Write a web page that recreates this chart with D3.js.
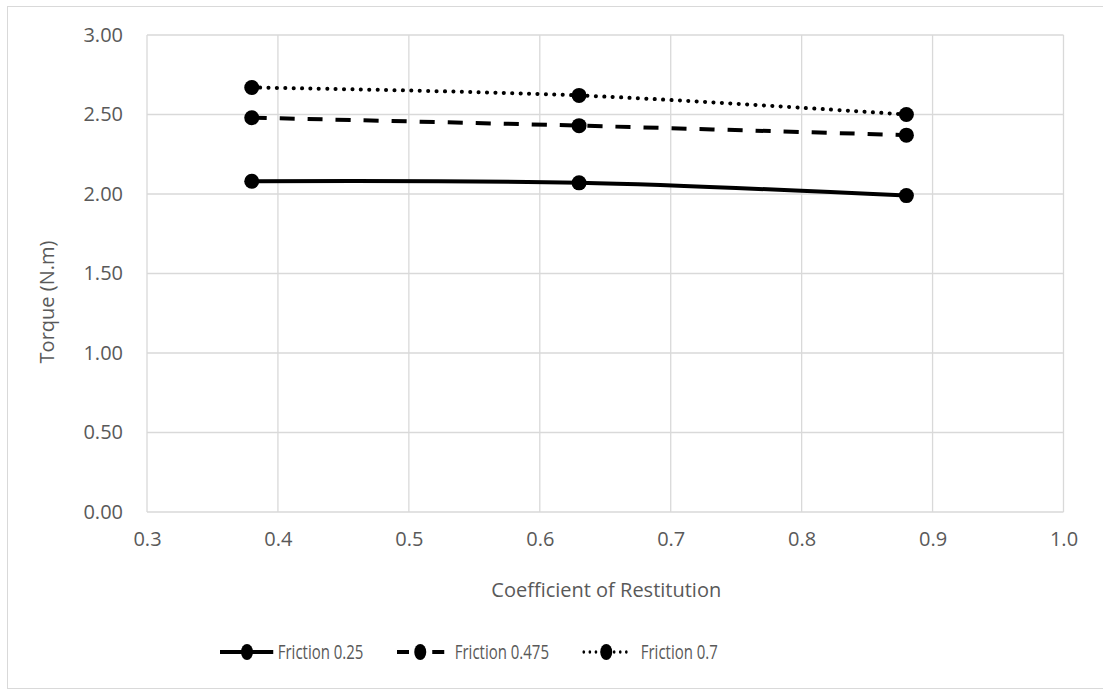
<!DOCTYPE html>
<html>
<head>
<meta charset="utf-8">
<script src="https://cdn.jsdelivr.net/npm/d3@7"></script>
<style>
  html, body { margin: 0; padding: 0; background: #fff; }
  svg text { font-family: "Open Sans", "Noto Sans", sans-serif; fill: #595959; }
</style>
</head>
<body>
<svg id="chart" width="1103" height="690"></svg>
<script>
// Coefficient of restitution values (x) and torque per friction level
const restitution = [0.38, 0.63, 0.88];
const friction025 = [2.08, 2.07, 1.99];
const friction0475 = [2.48, 2.43, 2.37];
const friction07 = [2.67, 2.62, 2.50];
const seriesNames = ["Friction 0.25", "Friction 0.475", "Friction 0.7"];
const xTicks = [0.3, 0.4, 0.5, 0.6, 0.7, 0.8, 0.9, 1.0];
const yTicks = [0, 0.5, 1, 1.5, 2, 2.5, 3];

const series = [
  { name: seriesNames[0], values: friction025, dash: null, cap: "butt" },
  { name: seriesNames[1], values: friction0475, dash: "15 13", cap: "butt" },
  { name: seriesNames[2], values: friction07, dash: "0.1 8.3", cap: "round" }
];

const svg = d3.select("#chart");
const W = 1103, H = 690;

// outer chart frame
svg.append("rect")
  .attr("x", 7.5).attr("y", 6.5)
  .attr("width", 1100).attr("height", 682)
  .attr("fill", "#fff").attr("stroke", "#d9d9d9").attr("stroke-width", 1);

const plot = { left: 147, right: 1063.5, top: 35, bottom: 512 };

const x = d3.scaleLinear().domain([0.3, 1.0]).range([plot.left, plot.right]);
const y = d3.scaleLinear().domain([0, 3]).range([plot.bottom, plot.top]);

// gridlines
const grid = svg.append("g").attr("stroke", "#d9d9d9").attr("stroke-width", 1.3);
grid.selectAll("line.v").data(xTicks).join("line")
  .attr("x1", d => x(d)).attr("x2", d => x(d))
  .attr("y1", plot.top).attr("y2", plot.bottom);
grid.selectAll("line.h").data(yTicks).join("line")
  .attr("x1", plot.left).attr("x2", plot.right)
  .attr("y1", d => y(d)).attr("y2", d => y(d));

// axes (labels only; lines come from the grid)
const yAxis = svg.append("g")
  .attr("transform", `translate(${plot.left},0)`)
  .call(d3.axisLeft(y).tickValues(yTicks).tickFormat(d3.format(".2f")).tickSize(0).tickPadding(24));
const xAxis = svg.append("g")
  .attr("transform", `translate(0,${plot.bottom})`)
  .call(d3.axisBottom(x).tickValues(xTicks).tickFormat(d3.format(".1f")).tickSize(0).tickPadding(20));
[yAxis, xAxis].forEach(a => {
  a.select(".domain").remove();
  a.selectAll("text").attr("font-size", 20).attr("fill", "#595959")
    .attr("font-family", '"Open Sans", "Noto Sans", sans-serif');
});

// axis titles
svg.append("text")
  .attr("x", (plot.left + plot.right) / 2 + 1).attr("y", 597)
  .attr("text-anchor", "middle").attr("font-size", 20)
  .text("Coefficient of Restitution");
svg.append("text")
  .attr("transform", "translate(54,302) rotate(-90)")
  .attr("text-anchor", "middle").attr("font-size", 20)
  .text("Torque (N.m)");

// series lines and markers
const line = d3.line()
  .x((d, i) => x(restitution[i]))
  .y(d => y(d))
  .curve(d3.curveCatmullRom.alpha(0.5));

series.forEach(s => {
  svg.append("path")
    .datum(s.values)
    .attr("d", line)
    .attr("fill", "none")
    .attr("stroke", "#000")
    .attr("stroke-width", 4)
    .attr("stroke-linecap", s.cap)
    .attr("stroke-dasharray", s.dash);
  svg.append("g").selectAll("circle").data(s.values).join("circle")
    .attr("cx", (d, i) => x(restitution[i]))
    .attr("cy", d => y(d))
    .attr("r", 7.5)
    .attr("fill", "#000");
});

// legend (horizontally condensed)
const legend = svg.append("g").attr("transform", "translate(220,652) scale(0.75,1)");
const legendItems = [
  { off: 0, s: series[0] },
  { off: 236, s: series[1] },
  { off: 483, s: series[2] }
];
legendItems.forEach(({ off, s }, k) => {
  const g = legend.append("g").attr("transform", `translate(${off},0)`);
  if (k === 0) {
    g.append("line").attr("x1", 0).attr("x2", 71).attr("y1", 0).attr("y2", 0)
      .attr("stroke", "#000").attr("stroke-width", 4);
  } else if (k === 1) {
    [[0, 16], [47, 63]].forEach(([a, b]) =>
      g.append("line").attr("x1", a).attr("x2", b).attr("y1", 0).attr("y2", 0)
        .attr("stroke", "#000").attr("stroke-width", 4));
  } else {
    g.append("line").attr("x1", 2).attr("x2", 64).attr("y1", 0).attr("y2", 0)
      .attr("stroke", "#000").attr("stroke-width", 3.5)
      .attr("stroke-linecap", "round").attr("stroke-dasharray", "0.1 8");
  }
  const cx = k === 0 ? 36 : k === 1 ? 31 : 32;
  g.append("circle").attr("cx", cx).attr("cy", 0).attr("r", 8).attr("fill", "#000");
  g.append("text")
    .attr("x", k === 0 ? 77 : k === 1 ? 77 : 78)
    .attr("y", 0).attr("dy", "0.35em")
    .attr("font-size", 20)
    .text(s.name);
});
</script>
</body>
</html>
